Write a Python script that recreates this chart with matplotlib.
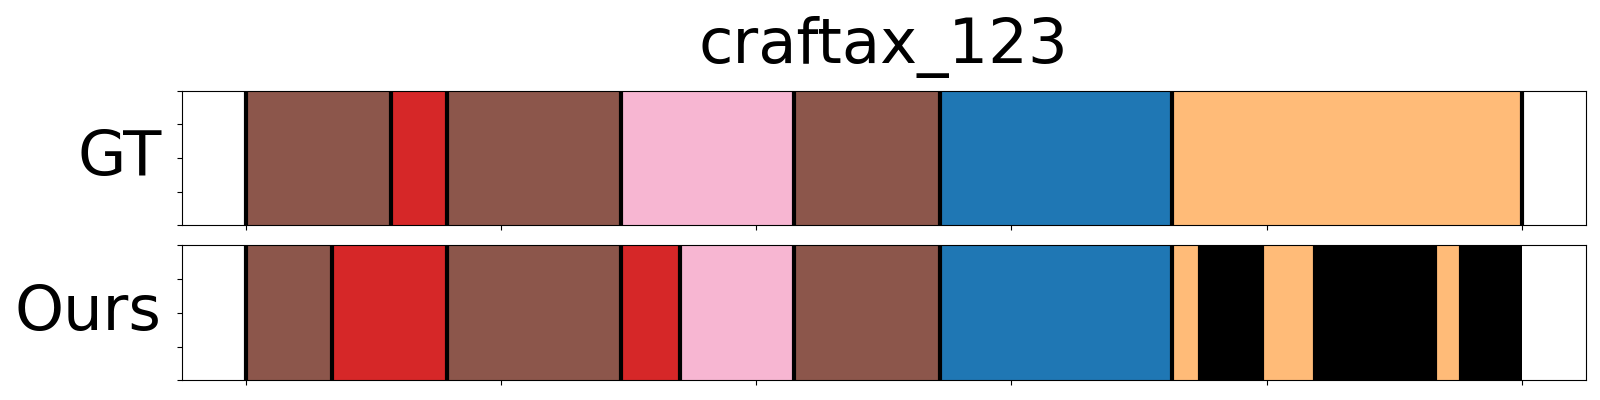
import numpy as np
import matplotlib
matplotlib.use("Agg")
import matplotlib.pyplot as plt

# Segment boundaries (frame index) and action labels
gt_bounds = [0, 57, 79, 147, 215, 272, 363, 500]
gt_labels = ["brown", "red", "brown", "pink", "brown", "blue", "orange"]

ours_bounds = [0, 34, 79, 147, 170, 215, 272, 363, 374, 398, 419, 466, 476, 500]
ours_labels = ["brown", "red", "brown", "red", "pink", "brown", "blue",
               "orange", "black", "orange", "black", "orange", "black"]

title = "craftax_123"
row_names = ["GT", "Ours"]

colors = {
    "brown": "#8c564b",
    "red": "#d62728",
    "pink": "#f7b6d2",
    "blue": "#1f77b4",
    "orange": "#ffbb78",
    "black": "#000000",
}


def draw_segments(ax, bounds, labels):
    for s, e, lab in zip(bounds[:-1], bounds[1:], labels):
        ax.axvspan(s, e, ymin=0, ymax=1, color=colors[lab], lw=0)
    for b in bounds:
        if b == bounds[-1] and labels[-1] == "black":
            continue
        ax.axvline(b, color="black", lw=3)
    ax.set_ylim(0, 1)
    ax.set_yticks(np.linspace(0, 1, 5))
    ax.set_xticks(np.arange(0, 501, 100))
    ax.set_xticklabels([])
    ax.set_yticklabels([])


def main():
    fig = plt.figure(figsize=(16, 4), dpi=100)
    ax1 = fig.add_axes([0.1136, 0.4368, 0.8775, 0.3365])
    ax2 = fig.add_axes([0.1136, 0.0493, 0.8775, 0.3375])

    draw_segments(ax1, gt_bounds, gt_labels)
    draw_segments(ax2, ours_bounds, ours_labels)

    for ax, name in zip([ax1, ax2], row_names):
        ax.set_xlim(-25, 525)
        ax.set_ylabel(name, fontsize=45, rotation=0, ha="right", va="center")
        ax.yaxis.set_label_coords(-0.0145, 0.5)

    ax1.set_title(title, fontsize=45, pad=20)

    fig.savefig("out.png", dpi=100)
    plt.close(fig)


if __name__ == "__main__":
    main()
